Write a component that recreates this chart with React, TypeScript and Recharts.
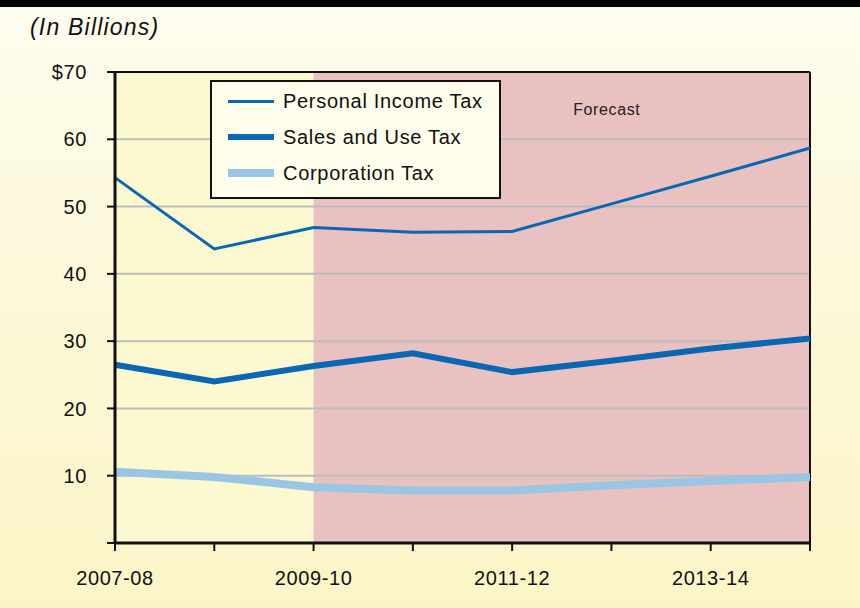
import React from "react";
import {
  LineChart,
  Line,
  XAxis,
  YAxis,
  ReferenceArea,
  ReferenceLine,
} from "recharts";

const years = [
  "2007-08",
  "2008-09",
  "2009-10",
  "2010-11",
  "2011-12",
  "2012-13",
  "2013-14",
  "2014-15",
];
const personalIncome = [54.3, 43.7, 46.9, 46.2, 46.3, 50.4, 54.5, 58.7];
const salesAndUse = [26.5, 24.0, 26.3, 28.2, 25.4, 27.1, 28.9, 30.4];
const corporation = [10.6, 9.8, 8.3, 7.8, 7.8, 8.6, 9.2, 9.8];
const yTicks = [0, 10, 20, 30, 40, 50, 60, 70];
const gridValues = [10, 20, 30, 40, 50, 60];
const labeledYears = ["2007-08", "2009-10", "2011-12", "2013-14"];
const forecastStart = "2009-10";

const data = years.map((year, i) => ({
  year,
  pit: personalIncome[i],
  sales: salesAndUse[i],
  corp: corporation[i],
}));

const series = [
  { key: "pit", name: "Personal Income Tax", color: "#0868b4", width: 3 },
  { key: "sales", name: "Sales and Use Tax", color: "#0868b4", width: 6 },
  { key: "corp", name: "Corporation Tax", color: "#9ac5e5", width: 8 },
];

const font = "'Liberation Sans', Arial, sans-serif";
const tickStyle = {
  fill: "#111",
  fontSize: 20,
  fontFamily: font,
  letterSpacing: 0.6,
};

// legend drawn as a plain box so it doesn't eat into the plot area
const LegendBox = () => (
  <div
    style={{
      position: "absolute",
      left: 210,
      top: 80,
      width: 287,
      height: 114,
      border: "2px solid #111",
      background: "#fffdec",
      fontFamily: font,
      fontSize: 20,
      letterSpacing: 0.7,
      color: "#111",
      paddingTop: 1,
      boxSizing: "content-box",
    }}
  >
    {series.map((s) => (
      <div
        key={s.key}
        style={{ display: "flex", alignItems: "center", height: 36 }}
      >
        <div
          style={{
            width: 46,
            height: s.width,
            background: s.color,
            marginLeft: 16,
            marginRight: 9,
          }}
        />
        <span>{s.name}</span>
      </div>
    ))}
  </div>
);

export default function App() {
  return (
    <div
      style={{
        position: "absolute",
        left: 0,
        top: 0,
        width: 860,
        height: 608,
        background:
          "linear-gradient(180deg, #fefcee 0%, #fcf8d6 55%, #fbf5c6 100%)",
        overflow: "hidden",
      }}
    >
      <div style={{ position: "absolute", left: 0, top: 0 }}>
        <LineChart
          width={860}
          height={608}
          data={data}
          margin={{ top: 72, right: 50, bottom: 35, left: 0 }}
        >
          <ReferenceArea
            x1={years[0]}
            x2={forecastStart}
            y1={0}
            y2={70}
            fill="#fcf8d0"
            fillOpacity={1}
            stroke="none"
          />
          <ReferenceArea
            x1={forecastStart}
            x2={years[years.length - 1]}
            y1={0}
            y2={70}
            fill="#e8c1c0"
            fillOpacity={1}
            stroke="none"
            label={{
              value: "Forecast",
              position: "insideTop",
              offset: 32,
              dx: 45,
              fill: "#222",
              fontSize: 16,
              letterSpacing: 0.6,
              fontFamily: font,
            }}
          />
          {gridValues.map((v) => (
            <ReferenceLine key={v} y={v} stroke="#bdbdbd" strokeWidth={2} />
          ))}
          <ReferenceLine y={70} stroke="#111" strokeWidth={2} />
          <ReferenceLine
            x={years[years.length - 1]}
            stroke="#111"
            strokeWidth={2}
          />
          <XAxis
            dataKey="year"
            height={30}
            interval={0}
            tickFormatter={(v: string) => (labeledYears.includes(v) ? v : "")}
            axisLine={{ stroke: "#111", strokeWidth: 3 }}
            tickLine={{ stroke: "#111", strokeWidth: 2 }}
            tickSize={8}
            tickMargin={20}
            tick={tickStyle}
          />
          <YAxis
            width={115}
            domain={[0, 70]}
            ticks={yTicks}
            interval={0}
            tickFormatter={(v: number) =>
              v === 0 ? "" : v === 70 ? "$70" : String(v)
            }
            axisLine={{ stroke: "#111", strokeWidth: 3 }}
            tickLine={{ stroke: "#111", strokeWidth: 2 }}
            tickSize={8}
            tickMargin={20}
            tick={tickStyle}
          />
          {series
            .slice()
            .reverse()
            .map((s) => (
              <Line
                key={s.key}
                dataKey={s.key}
                name={s.name}
                stroke={s.color}
                strokeWidth={s.width}
                dot={false}
                activeDot={false}
                type="linear"
                isAnimationActive={false}
              />
            ))}
        </LineChart>
      </div>
      <div
        style={{
          position: "absolute",
          left: 0,
          top: 0,
          width: 860,
          height: 7,
          background: "#000",
        }}
      />
      <div
        style={{
          position: "absolute",
          left: 30,
          top: 14,
          fontFamily: font,
          fontStyle: "italic",
          fontSize: 23,
          letterSpacing: 1.2,
          color: "#111",
        }}
      >
        (In Billions)
      </div>
      <LegendBox />
    </div>
  );
}
